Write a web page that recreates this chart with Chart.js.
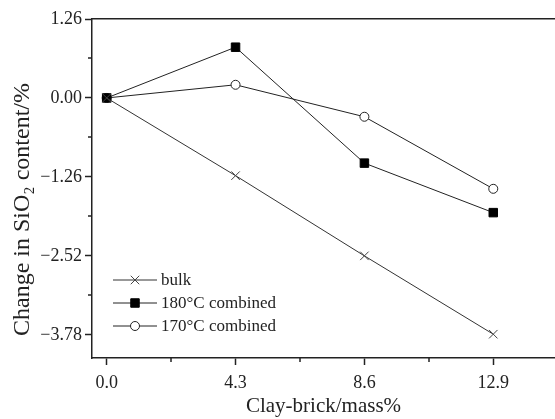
<!DOCTYPE html>
<html><head><meta charset="utf-8">
<script src="https://cdn.jsdelivr.net/npm/chart.js@4/dist/chart.umd.min.js"></script>
<style>html,body{margin:0;padding:0;background:#fff;overflow:hidden}#wrap{width:555px;height:419px;overflow:hidden}</style>
</head><body><div id="wrap"><canvas id="c" width="562" height="419"></canvas></div>
<script>
const clayBrick = [0, 4.3, 8.6, 12.9];
const bulk = [0, -1.24, -2.52, -3.77];
const combined180 = [0, 0.81, -1.04, -1.83];
const combined170 = [0, 0.21, -0.30, -1.45];
const seriesLabels = ['bulk', '180°C combined', '170°C combined'];
const xTicks = [0, 4.3, 8.6, 12.9];
const xTickLabels = ['0.0', '4.3', '8.6', '12.9'];
const xMinorTicks = [2.15, 6.45, 10.75];
const yTicks = [1.26, 0, -1.26, -2.52, -3.78];
const yTickLabels = ['1.26', '0.00', '\u22121.26', '\u22122.52', '\u22123.78'];
const yMinorTicks = [0.63, -0.63, -1.89, -3.15];
const xTitle = 'Clay-brick/mass%';
const yTitle = 'Change in SiO\u2082 content/%';

const FONT = "'Liberation Serif', 'Times New Roman', serif";
const INK = '#222';
const X_MIN = -0.49, X_MAX = 14.96;

function pts(ys) { return clayBrick.map((x, i) => ({ x: x, y: ys[i] })); }

const minorTicks = {
  id: 'minorTicks',
  afterDraw(chart) {
    const ctx = chart.ctx, xs = chart.scales.x, ys = chart.scales.y;
    ctx.save();
    ctx.strokeStyle = INK; ctx.lineWidth = 1.5;
    xMinorTicks.forEach(v => {
      const px = Math.round(xs.getPixelForValue(v));
      ctx.beginPath(); ctx.moveTo(px, xs.top); ctx.lineTo(px, xs.top + 4); ctx.stroke();
    });
    yMinorTicks.forEach(v => {
      const py = Math.round(ys.getPixelForValue(v));
      ctx.beginPath(); ctx.moveTo(ys.right, py); ctx.lineTo(ys.right - 4, py); ctx.stroke();
    });
    ctx.restore();
  }
};

const innerLegend = {
  id: 'innerLegend',
  afterDraw(chart) {
    const ctx = chart.ctx;
    const rows = [280, 303, 326];
    ctx.save();
    chart.data.datasets.forEach((ds, i) => {
      const y = rows[i];
      ctx.strokeStyle = ds.borderColor; ctx.lineWidth = 1;
      ctx.beginPath(); ctx.moveTo(113, y); ctx.lineTo(157, y); ctx.stroke();
      ctx.fillStyle = ds.pointBackgroundColor; ctx.strokeStyle = ds.pointBorderColor;
      ctx.lineWidth = 1;
      Chart.helpers.drawPoint(ctx, { pointStyle: ds.pointStyle, radius: ds.pointRadius, rotation: 0, borderWidth: 1 }, 135, y);
      ctx.fillStyle = INK;
      ctx.font = "17px " + FONT;
      ctx.textBaseline = 'middle'; ctx.textAlign = 'left';
      ctx.fillText(ds.label, 161, y + 1);
    });
    ctx.restore();
  }
};

new Chart(document.getElementById('c'), {
  type: 'line',
  data: {
    datasets: [
      { label: seriesLabels[0], data: pts(bulk), borderColor: '#333', borderWidth: 1,
        pointStyle: 'crossRot', pointRadius: 6, pointBorderColor: '#444', pointBackgroundColor: '#444', pointBorderWidth: 1 },
      { label: seriesLabels[1], data: pts(combined180), borderColor: '#222', borderWidth: 1,
        pointStyle: 'rect', pointRadius: 6, pointBorderColor: '#000', pointBackgroundColor: '#000', pointBorderWidth: 1 },
      { label: seriesLabels[2], data: pts(combined170), borderColor: '#222', borderWidth: 1,
        pointStyle: 'circle', pointRadius: 4.5, pointBorderColor: '#222', pointBackgroundColor: '#fff', pointBorderWidth: 1 }
    ]
  },
  options: {
    responsive: false, animation: false, devicePixelRatio: 1,
    layout: { padding: 0 },
    plugins: {
      legend: { display: false }, tooltip: { enabled: false },
      title: { display: true, position: 'left', text: yTitle, color: INK,
        font: { family: FONT, size: 24, weight: 'normal', lineHeight: 1.2 }, padding: { top: 8, bottom: 0 } }
    },
    scales: {
      x: {
        type: 'linear', position: 'bottom', min: X_MIN, max: X_MAX,
        afterBuildTicks: s => { s.ticks = xTicks.map(v => ({ value: v })); },
        afterFit: s => { s.height = 61; },
        ticks: { callback: v => xTickLabels[xTicks.indexOf(v)], font: { family: FONT, size: 18 }, color: INK, padding: 7, maxRotation: 0, autoSkip: false },
        grid: { drawOnChartArea: false, tickLength: 7, tickColor: INK, tickWidth: 1.5 },
        border: { display: true, color: INK, width: 1.5 },
        title: { display: true, text: xTitle, font: { family: FONT, size: 21 }, color: INK, padding: { top: 3, bottom: 0 } }
      },
      x2: {
        type: 'linear', position: 'top', min: X_MIN, max: X_MAX,
        afterFit: s => { s.height = 19; },
        ticks: { display: false },
        grid: { drawOnChartArea: false, drawTicks: false },
        border: { display: true, color: INK, width: 1.5 }
      },
      y: {
        type: 'linear', position: 'left', min: -4.15, max: 1.26,
        afterBuildTicks: s => { s.ticks = yTicks.map(v => ({ value: v })); },
        afterFit: s => { s.width = 92 - 36.8; },
        ticks: { callback: v => yTickLabels[yTicks.indexOf(v)], font: { family: FONT, size: 18 }, color: INK, padding: 3, autoSkip: false },
        grid: { drawOnChartArea: false, tickLength: 7, tickColor: INK, tickWidth: 1.5 },
        border: { display: true, color: INK, width: 1.5 }
      }
    }
  },
  plugins: [minorTicks, innerLegend]
});
</script>
</body></html>
